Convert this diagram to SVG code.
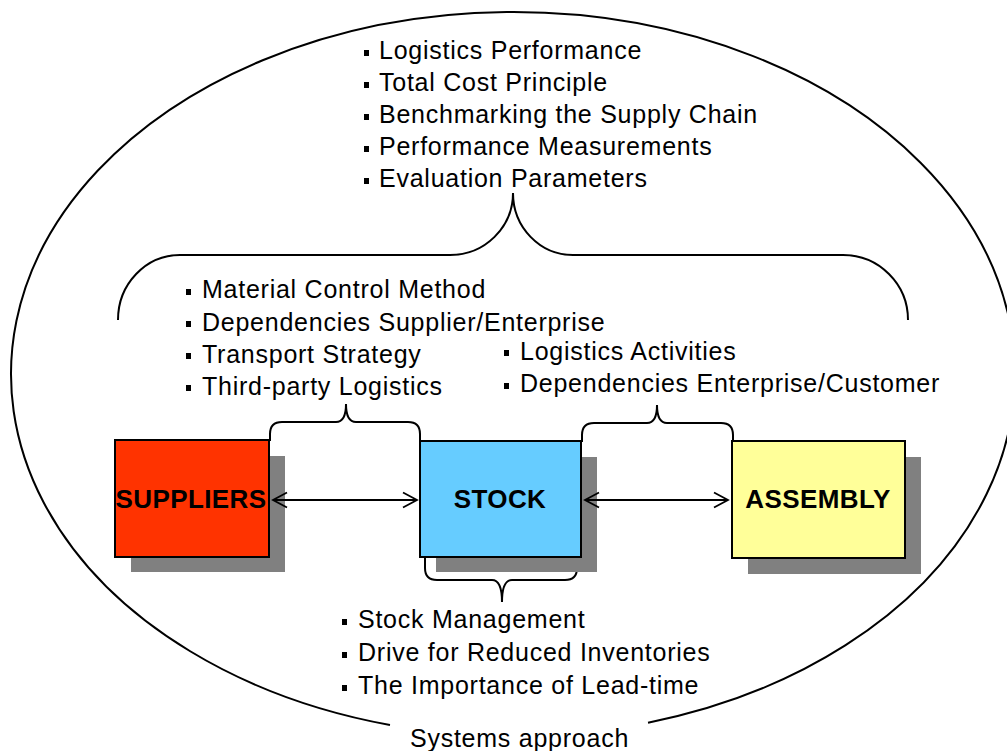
<svg xmlns="http://www.w3.org/2000/svg" width="1007" height="751" viewBox="0 0 1007 751">
  <style>
    .item { font-family: "Liberation Sans", Arial, sans-serif; font-size: 25px; letter-spacing: 0.75px; fill: #000; }
    .label { font-family: "Liberation Sans", Arial, sans-serif; font-size: 26px; font-weight: bold; letter-spacing: 0.4px; fill: #000; text-anchor: middle; }
    .bullet { fill: #000; }
    .line { fill: none; stroke: #000; stroke-width: 2; }
    .box { stroke: #000; stroke-width: 2; }
    .shadow { fill: #808080; }
    .conn { fill: none; stroke: #000; stroke-width: 1.8; marker-start: url(#head); marker-end: url(#head); }
  </style>
  <defs>
    <marker id="head" viewBox="-16 -9 18 18" markerWidth="18" markerHeight="18" refX="0" refY="0" orient="auto-start-reverse" markerUnits="userSpaceOnUse">
      <path d="M -14 -7.5 L 0 0 L -14 7.5" fill="none" stroke="#000" stroke-width="1.8"/>
    </marker>
  </defs>

  <rect width="1007" height="751" fill="#fff"/>

  <!-- surrounding "systems approach" boundary, open at the bottom for its caption -->
  <path class="line" d="M 648 722.7 A 502 362 0 1 0 390 725"/>
  <text class="item" x="410" y="747">Systems approach</text>

  <!-- top-level topics -->
  <g id="overall-topics">
    <rect class="bullet" x="364" y="50" width="5" height="6"/>
    <text class="item" x="379" y="59">Logistics Performance</text>
    <rect class="bullet" x="364" y="82" width="5" height="6"/>
    <text class="item" x="379" y="91">Total Cost Principle</text>
    <rect class="bullet" x="364" y="114" width="5" height="6"/>
    <text class="item" x="379" y="123">Benchmarking the Supply Chain</text>
    <rect class="bullet" x="364" y="146" width="5" height="6"/>
    <text class="item" x="379" y="155">Performance Measurements</text>
    <rect class="bullet" x="364" y="178" width="5" height="6"/>
    <text class="item" x="379" y="187">Evaluation Parameters</text>
  </g>

  <!-- large brace spanning the whole chain -->
  <path class="line" d="M 118 320 A 62 65 0 0 1 180 255 L 450 255 A 63 62 0 0 0 513 193 A 60 62 0 0 0 573 255 L 843 255 A 65 65 0 0 1 908 320"/>

  <!-- supplier/stock topics -->
  <g id="supply-topics">
    <rect class="bullet" x="186" y="289" width="5" height="6"/>
    <text class="item" x="202" y="298">Material Control Method</text>
    <rect class="bullet" x="186" y="321" width="5" height="6"/>
    <text class="item" x="202" y="331">Dependencies Supplier/Enterprise</text>
    <rect class="bullet" x="186" y="353" width="5" height="6"/>
    <text class="item" x="202" y="363">Transport Strategy</text>
    <rect class="bullet" x="186" y="385" width="5" height="6"/>
    <text class="item" x="202" y="395">Third-party Logistics</text>
  </g>

  <!-- stock/assembly topics -->
  <g id="customer-topics">
    <rect class="bullet" x="504" y="350" width="5" height="6"/>
    <text class="item" x="520" y="360">Logistics Activities</text>
    <rect class="bullet" x="504" y="383" width="5" height="6"/>
    <text class="item" x="520" y="392">Dependencies Enterprise/Customer</text>
  </g>

  <!-- stock topics -->
  <g id="stock-topics">
    <rect class="bullet" x="342" y="619" width="5" height="6"/>
    <text class="item" x="358" y="628">Stock Management</text>
    <rect class="bullet" x="342" y="652" width="5" height="6"/>
    <text class="item" x="358" y="661">Drive for Reduced Inventories</text>
    <rect class="bullet" x="342" y="685" width="5" height="6"/>
    <text class="item" x="358" y="694">The Importance of Lead-time</text>
  </g>

  <!-- small braces -->
  <g id="braces">
    <path class="line" d="M 270 441 L 270 434 Q 270 422 282 422 L 336 422 Q 346 422 346 404 Q 346 422 356 422 L 408 422 Q 420 422 420 434 L 420 441"/>
    <path class="line" d="M 582 442 L 582 435 Q 582 423 594 423 L 647 423 Q 657 423 657 405 Q 657 423 667 423 L 721 423 Q 733 423 733 435 L 733 442"/>
    <path class="line" d="M 425 557 L 425 568 Q 425 580 437 580 L 492 580 Q 502 580 502 602 Q 502 580 512 580 L 565 580 Q 577 580 577 568 L 577 557"/>
  </g>

  <!-- nodes -->
  <g id="suppliers">
    <rect class="shadow" x="131" y="456" width="154" height="116"/>
    <rect class="box" x="115" y="440" width="154" height="117" fill="#FF3300"/>
    <text class="label" x="191" y="508">SUPPLIERS</text>
  </g>
  <g id="stock">
    <rect class="shadow" x="436" y="457" width="161" height="115"/>
    <rect class="box" x="420" y="441" width="161" height="116" fill="#66CCFF"/>
    <text class="label" x="500" y="508">STOCK</text>
  </g>
  <g id="assembly">
    <rect class="shadow" x="748" y="457" width="173" height="117"/>
    <rect class="box" x="732" y="441" width="173" height="117" fill="#FFFF99"/>
    <text class="label" x="818" y="508">ASSEMBLY</text>
  </g>

  <!-- connectors -->
  <g id="connectors">
    <line class="conn" x1="273" y1="500" x2="417" y2="500"/>
    <line class="conn" x1="585" y1="500" x2="728" y2="500"/>
  </g>
</svg>
